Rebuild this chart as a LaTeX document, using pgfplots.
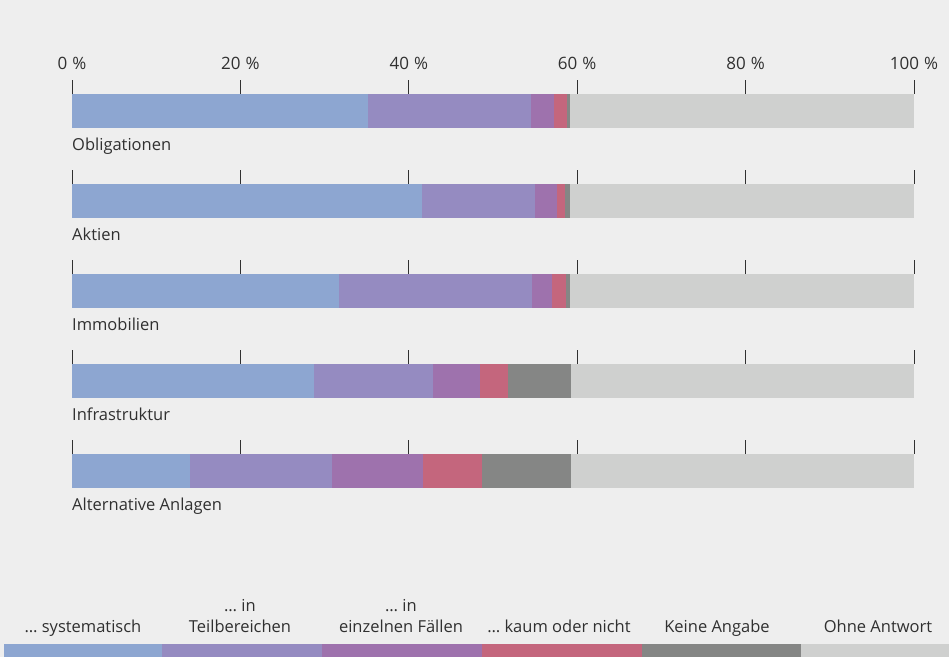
\documentclass[border=0pt]{standalone}
\usepackage{pgfplots}
\pgfplotsset{compat=1.18}
\usepackage{fontspec}
\setmainfont{Open Sans}
\definecolor{bg}{HTML}{EEEEEE}
\definecolor{cA}{HTML}{8DA6D1}
\definecolor{cB}{HTML}{958BC1}
\definecolor{cC}{HTML}{9E72AD}
\definecolor{cD}{HTML}{C4667D}
\definecolor{cE}{HTML}{858685}
\definecolor{cF}{HTML}{CFD0CF}
\definecolor{txt}{HTML}{303030}
\newcommand{\pc}{\hspace{0.3em}\%}

\pgfplotsset{
  rowstyle/.style={
    anchor=north west, width=842pt, height=34pt, scale only axis,
    xmin=0, xmax=100, ymin=-0.5, ymax=0.5, enlargelimits=false,
    xbar stacked, bar width=34pt, clip=false,
    axis x line*=top, axis y line=none,
    x axis line style={draw=none},
    xtick={0,20,40,60,80,100}, ytick=\empty,
    tick align=outside, major tick length=14pt,
    xtick style={draw=txt, line width=0.9pt},
    xticklabel style={font=\fontsize{17}{20}\selectfont, text=txt, anchor=base, yshift=10.5pt},
    every axis plot/.append style={draw=none},
  }
}

\newcommand{\rowaxis}[8]{%
\begin{axis}[rowstyle, at={(72pt,#1)}, xticklabels={#8}]
\addplot[fill=cA] coordinates {(#3,0)};
\addplot[fill=cB] coordinates {(#4,0)};
\addplot[fill=cC] coordinates {(#5,0)};
\addplot[fill=cD] coordinates {(#6,0)};
\addplot[fill=cE] coordinates {(#7,0)};
\addplot[fill=cF] coordinates {({100-#3-#4-#5-#6-#7},0)};
\node[anchor=base west, inner sep=0pt, text=txt, font=\fontsize{16.5}{20}\selectfont]
  at (rel axis cs:0,0) [yshift=-22pt] {#2};
\end{axis}}

\begin{document}
\begin{tikzpicture}[x=1pt,y=1pt]
\fill[bg] (0,-657) rectangle (949,0);
\rowaxis{-94pt}{Obligationen}{35.2}{19.3}{2.7}{1.6}{0.4}{0\pc,20\pc,40\pc,60\pc,80\pc,100\pc}
\rowaxis{-184pt}{Aktien}{41.6}{13.4}{2.6}{1.0}{0.6}{}
\rowaxis{-274pt}{Immobilien}{31.7}{22.9}{2.4}{1.7}{0.5}{}
\rowaxis{-364pt}{Infrastruktur}{28.7}{14.2}{5.5}{3.4}{7.5}{}
\rowaxis{-454pt}{Alternative Anlagen}{14.0}{16.9}{10.8}{7.0}{10.6}{}
% legend
\fill[cA] (4,-657) rectangle (162,-644);
\fill[cB] (162,-657) rectangle (322,-644);
\fill[cC] (322,-657) rectangle (482,-644);
\fill[cD] (482,-657) rectangle (642,-644);
\fill[cE] (642,-657) rectangle (801,-644);
\fill[cF] (801,-657) rectangle (949,-644);
\begin{scope}[every node/.style={anchor=base, inner sep=0pt, text=txt, font=\fontsize{16.5}{20}\selectfont}]
\node at (83,-632) {… systematisch};
\node at (240,-611.5) {… in};
\node at (240,-632) {Teilbereichen};
\node at (401,-611.5) {… in};
\node at (401,-632) {einzelnen Fällen};
\node at (559,-632) {… kaum oder nicht};
\node at (717,-632) {Keine Angabe};
\node at (878,-632) {Ohne Antwort};
\end{scope}
\end{tikzpicture}
\end{document}
